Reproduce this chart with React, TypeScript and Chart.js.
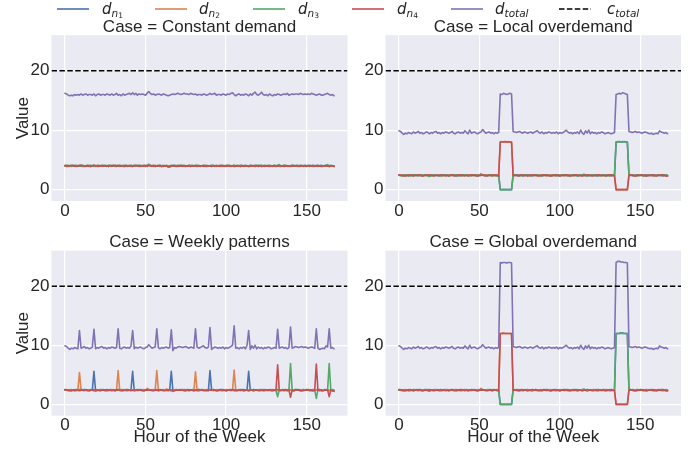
import React, { useEffect, useRef } from "react";
import { Chart, registerables } from "chart.js";
Chart.register(...registerables);

// ---------------- DATA ----------------
const HOURS = [
  0,1,2,3,4,5,6,7,8,9,10,11,12,13,14,15,16,17,18,19,20,21,22,23,
  24,25,26,27,28,29,30,31,32,33,34,35,36,37,38,39,40,41,42,43,44,45,46,47,
  48,49,50,51,52,53,54,55,56,57,58,59,60,61,62,63,64,65,66,67,68,69,70,71,
  72,73,74,75,76,77,78,79,80,81,82,83,84,85,86,87,88,89,90,91,92,93,94,95,
  96,97,98,99,100,101,102,103,104,105,106,107,108,109,110,111,112,113,114,115,116,117,118,119,
  120,121,122,123,124,125,126,127,128,129,130,131,132,133,134,135,136,137,138,139,140,141,142,143,
  144,145,146,147,148,149,150,151,152,153,154,155,156,157,158,159,160,161,162,163,164,165,166,167,
];
const X_TICKS = [0, 50, 100, 150];
const Y_TICKS = [0, 10, 20];
const X_RANGE = [-8.35, 175.35];
const Y_RANGE = [-1.92, 26.0];
const C_TOTAL = 20;

const CASES = ["Case = Constant demand", "Case = Local overdemand", "Case = Weekly patterns", "Case = Global overdemand"];
const X_LABEL = "Hour of the Week";
const Y_LABEL = "Value";

// Constant demand
const CONST_N1 = [
  4.1,4.0,3.9,4.0,4.0,4.1,3.9,4.0,4.0,4.1,4.0,3.9,4.0,4.0,4.1,4.0,3.9,4.0,4.1,4.0,4.0,3.9,4.0,4.1,
  4.0,4.0,3.9,4.1,4.0,4.0,4.1,3.9,4.0,4.0,4.1,4.0,3.9,4.0,4.1,4.0,4.0,3.9,4.0,4.1,4.0,4.0,4.1,3.9,
  4.0,4.1,4.0,3.9,4.2,4.0,4.0,4.1,3.9,4.0,4.0,4.1,4.0,3.9,4.0,4.0,3.9,3.8,4.0,4.0,4.1,4.0,3.9,4.0,
  4.1,4.0,4.0,3.9,4.0,4.1,4.0,4.0,3.9,4.1,4.0,4.0,3.9,4.0,4.1,4.0,3.9,4.0,4.0,4.1,4.0,3.9,4.0,4.0,
  4.0,4.1,3.9,4.0,4.0,4.1,4.0,3.9,4.0,4.1,3.9,4.0,4.0,4.1,4.0,3.9,4.0,4.0,3.9,4.1,4.0,4.0,4.1,4.0,
  3.9,4.0,4.1,4.0,3.9,4.0,4.0,4.1,4.0,3.9,4.0,4.0,4.1,4.0,3.9,4.0,4.1,4.0,4.0,3.9,4.0,4.1,4.0,4.0,
  4.1,4.0,3.9,4.0,4.0,4.1,4.0,4.0,3.9,4.0,4.1,4.0,4.0,3.9,4.0,4.1,4.0,4.0,4.1,4.0,3.9,4.0,4.0,3.9,
];
const CONST_N2 = [
  4.0,4.1,4.0,3.9,4.0,4.0,4.1,4.0,3.9,4.0,4.1,4.0,4.0,3.9,4.0,4.1,4.0,4.0,3.9,4.0,4.1,4.0,4.0,3.9,
  4.1,4.0,4.0,3.9,4.0,4.1,4.0,4.0,3.9,4.1,4.0,4.0,4.1,3.9,4.0,4.0,4.1,4.0,3.9,4.0,4.0,4.1,4.0,4.0,
  3.9,4.0,4.1,4.0,4.3,4.0,3.9,4.0,4.1,4.0,4.0,3.9,4.0,4.1,4.0,4.0,3.9,4.0,4.1,4.0,4.0,3.9,4.0,4.1,
  4.0,4.0,4.1,4.0,3.9,4.0,4.1,4.0,4.0,3.9,4.0,4.1,4.0,4.0,3.9,4.0,4.1,4.0,4.0,3.9,4.0,4.0,4.1,4.0,
  4.1,3.9,4.0,4.0,4.1,4.0,3.9,4.0,4.0,4.1,4.0,4.0,3.9,4.0,4.1,4.0,4.0,3.9,4.0,4.0,4.1,4.0,3.9,4.0,
  4.0,4.1,4.0,3.9,4.0,4.0,4.1,4.0,3.9,4.0,4.1,4.0,4.0,3.9,4.0,4.0,4.1,4.0,3.9,4.0,4.0,4.1,4.0,4.0,
  3.9,4.0,4.0,4.1,4.0,3.9,4.0,4.1,4.0,4.0,3.9,4.0,4.1,4.0,4.0,3.9,4.0,4.0,4.1,4.0,4.0,3.9,4.0,4.0,
];
const CONST_N3 = [
  4.0,4.0,4.1,4.0,3.9,4.0,4.0,4.1,4.0,4.0,3.9,4.1,4.0,4.0,4.0,3.9,4.1,4.0,4.0,3.9,4.0,4.1,4.0,4.0,
  3.9,4.1,4.0,4.0,4.1,3.9,4.0,4.0,4.1,4.0,3.9,4.0,4.0,4.1,4.0,3.9,4.0,4.1,4.0,4.0,3.9,4.0,4.0,4.1,
  4.0,3.9,4.0,4.1,4.0,4.1,4.0,3.9,4.0,4.0,4.1,4.0,3.9,4.0,4.0,4.1,4.0,4.0,3.9,4.1,4.0,4.0,4.1,3.9,
  4.0,4.1,3.9,4.0,4.0,4.0,3.9,4.1,4.0,4.0,4.1,3.9,4.0,4.0,4.0,4.1,3.9,4.0,4.0,4.0,4.1,4.0,3.9,4.0,
  4.0,4.0,4.1,3.9,4.0,4.0,4.1,4.0,4.0,3.9,4.0,4.1,4.0,3.9,4.0,4.0,4.1,4.0,4.0,3.9,4.0,4.0,4.0,4.1,
  4.1,4.0,3.9,4.0,4.1,4.0,3.9,4.0,4.0,4.0,4.1,3.9,4.0,4.2,4.0,4.0,3.9,4.1,4.0,4.0,4.0,3.9,4.1,4.0,
  4.0,4.0,4.1,4.0,3.9,4.0,4.0,4.0,4.1,4.0,3.9,4.0,4.0,4.1,4.0,4.0,3.9,4.0,4.0,4.2,4.0,4.1,4.0,4.0,
];
const CONST_N4 = [
  4.0,3.9,4.0,4.0,4.1,4.0,4.0,3.9,4.0,4.0,4.1,4.0,3.9,4.0,4.0,4.0,3.9,4.0,4.1,4.0,3.9,4.0,4.0,4.0,
  4.0,4.0,4.0,3.9,4.0,4.0,4.0,4.1,3.9,4.0,4.0,4.0,4.0,3.9,4.0,4.0,4.0,4.0,3.9,4.0,4.1,4.0,3.9,4.0,
  4.0,4.0,3.9,4.0,4.1,4.0,4.0,4.0,3.9,4.0,4.0,4.0,3.9,4.0,4.0,4.0,3.8,3.9,4.0,4.0,4.0,3.9,4.0,4.0,
  4.0,3.9,4.0,4.0,4.0,4.0,3.9,4.0,4.0,4.0,3.9,4.0,4.0,4.0,4.0,3.9,4.0,4.0,4.0,3.9,4.0,4.0,4.0,4.0,
  3.9,4.0,4.0,4.0,3.9,4.0,4.0,4.0,4.0,3.9,4.0,4.0,4.0,3.9,4.0,4.0,4.0,4.0,3.9,4.0,4.0,4.0,3.9,4.0,
  4.0,4.0,3.9,4.0,4.0,4.0,4.0,3.9,4.0,4.0,4.0,3.9,4.0,4.0,4.0,4.0,3.9,4.0,4.0,4.0,3.9,4.0,4.0,4.0,
  4.0,3.9,4.0,4.0,4.0,4.0,3.9,4.0,4.0,4.0,4.0,3.9,4.0,4.0,4.0,3.9,4.0,4.0,4.0,4.0,3.9,4.0,4.0,3.9,
];
const CONST_TOTAL = [
  16.2,16.1,15.9,15.8,15.9,15.8,16.0,15.9,16.0,15.9,16.1,15.9,16.0,16.1,15.9,16.0,16.0,15.9,16.1,15.8,16.0,16.1,15.9,16.0,
  16.0,15.9,16.1,16.0,15.9,16.1,15.9,16.0,16.2,15.9,16.0,15.8,16.1,15.9,16.0,16.1,16.2,16.0,16.3,16.0,16.2,15.9,16.1,16.0,
  16.1,16.0,15.9,16.2,16.5,16.2,16.0,16.1,15.9,16.0,16.1,16.0,15.9,16.1,16.0,15.9,15.8,15.9,16.0,16.1,16.0,16.1,16.2,16.1,
  16.0,16.1,16.2,16.1,16.1,16.0,16.2,16.1,16.0,16.1,15.9,16.0,16.0,15.9,16.1,16.0,15.9,16.0,16.2,16.0,16.1,16.2,15.9,16.0,
  16.0,15.9,16.1,16.0,15.9,16.1,16.0,16.2,16.3,16.0,15.8,16.0,16.1,15.9,16.0,15.9,16.1,16.0,15.8,16.1,15.9,16.2,16.4,16.0,
  15.9,16.1,16.4,16.0,15.9,16.0,15.8,16.1,15.9,15.8,16.0,15.9,16.1,16.0,15.9,16.0,16.1,16.0,16.2,15.9,16.0,16.1,16.0,16.1,
  16.1,16.0,16.2,16.1,16.0,16.1,16.0,16.1,16.0,16.2,16.1,16.0,15.9,16.0,16.1,15.9,15.9,16.0,16.1,16.2,16.0,15.9,16.0,15.8,
];

// Local overdemand
const LOCAL_N1 = [
  2.5,2.4,2.4,2.3,2.4,2.4,2.3,2.4,2.4,2.5,2.4,2.4,2.5,2.4,2.3,2.4,2.4,2.5,2.4,2.3,2.4,2.4,2.5,2.4,
  2.4,2.3,2.4,2.4,2.5,2.4,2.4,2.3,2.4,2.5,2.4,2.4,2.3,2.4,2.4,2.5,2.4,2.4,2.5,2.3,2.4,2.4,2.4,2.5,
  2.4,2.3,2.4,2.4,2.5,2.4,2.4,2.4,2.5,2.4,2.3,2.4,2.4,2.4,2.4,0.0,0.0,0.0,0.0,0.0,0.0,0.0,0.0,2.5,
  2.4,2.4,2.5,2.4,2.4,2.3,2.4,2.4,2.5,2.4,2.4,2.3,2.4,2.5,2.4,2.4,2.4,2.3,2.4,2.4,2.5,2.4,2.4,2.3,
  2.4,2.4,2.5,2.4,2.3,2.4,2.4,2.5,2.4,2.4,2.3,2.4,2.4,2.5,2.4,2.3,2.4,2.4,2.5,2.4,2.4,2.3,2.4,2.4,
  2.4,2.5,2.4,2.3,2.4,2.4,2.4,2.5,2.4,2.3,2.4,2.4,2.5,2.4,2.4,8.0,8.0,8.1,8.0,8.0,8.1,8.0,8.0,2.5,
  2.4,2.4,2.3,2.4,2.5,2.4,2.4,2.4,2.3,2.4,2.5,2.4,2.4,2.4,2.3,2.4,2.4,2.5,2.4,2.4,2.3,2.4,2.4,2.3,
];
const LOCAL_N2 = [
  2.4,2.5,2.4,2.4,2.3,2.4,2.5,2.4,2.4,2.3,2.4,2.5,2.4,2.4,2.4,2.3,2.4,2.4,2.5,2.4,2.4,2.3,2.4,2.4,
  2.5,2.4,2.4,2.3,2.4,2.4,2.5,2.4,2.4,2.4,2.3,2.4,2.5,2.4,2.4,2.3,2.4,2.5,2.4,2.4,2.4,2.3,2.4,2.4,
  2.4,2.5,2.4,2.7,2.4,2.4,2.4,2.5,2.4,2.4,2.3,2.4,2.4,2.5,2.4,8.0,8.1,8.0,8.0,8.0,8.1,8.0,8.0,2.4,
  2.5,2.4,2.4,2.3,2.4,2.5,2.4,2.4,2.3,2.4,2.4,2.5,2.4,2.4,2.3,2.4,2.5,2.4,2.4,2.4,2.3,2.4,2.5,2.4,
  2.4,2.3,2.4,2.4,2.5,2.4,2.4,2.3,2.4,2.5,2.4,2.4,2.4,2.3,2.4,2.5,2.4,2.4,2.3,2.4,2.4,2.5,2.4,2.4,
  2.3,2.4,2.4,2.5,2.4,2.4,2.3,2.4,2.4,2.5,2.4,2.4,2.3,2.4,2.4,0.0,0.0,0.0,0.0,0.0,0.0,0.0,0.0,2.4,
  2.5,2.4,2.4,2.4,2.3,2.4,2.5,2.4,2.4,2.3,2.4,2.4,2.5,2.4,2.4,2.3,2.4,2.4,2.5,2.4,2.4,2.4,2.3,2.4,
];
const LOCAL_N3 = [
  2.4,2.4,2.3,2.4,2.5,2.4,2.4,2.3,2.4,2.4,2.5,2.4,2.3,2.4,2.4,2.4,2.5,2.4,2.3,2.2,2.4,2.4,2.4,2.5,
  2.4,2.4,2.3,2.4,2.4,2.5,2.4,2.3,2.4,2.4,2.4,2.5,2.4,2.4,2.3,2.4,2.4,2.5,2.4,2.3,2.4,2.4,2.5,2.4,
  2.3,2.4,2.4,2.5,2.4,2.4,2.3,2.4,2.4,2.5,2.4,2.4,2.4,2.3,2.4,0.0,0.0,0.0,0.0,0.0,0.0,0.0,0.0,2.4,
  2.4,2.5,2.4,2.3,2.4,2.4,2.4,2.5,2.4,2.4,2.3,2.4,2.4,2.5,2.4,2.4,2.3,2.4,2.4,2.5,2.4,2.4,2.3,2.4,
  2.5,2.4,2.3,2.4,2.4,2.4,2.5,2.4,2.4,2.3,2.4,2.4,2.5,2.4,2.4,2.3,2.4,2.4,2.4,2.6,2.4,2.3,2.4,2.4,
  2.4,2.4,2.5,2.4,2.3,2.4,2.4,2.4,2.5,2.4,2.4,2.3,2.4,2.4,2.4,8.0,8.1,8.0,8.0,8.1,8.0,8.0,8.0,2.4,
  2.4,2.5,2.4,2.3,2.4,2.4,2.5,2.4,2.4,2.4,2.3,2.4,2.4,2.5,2.4,2.4,2.3,2.4,2.4,2.5,2.4,2.4,2.5,2.4,
];
const LOCAL_N4 = [
  2.5,2.4,2.4,2.4,2.3,2.4,2.4,2.5,2.4,2.3,2.4,2.4,2.4,2.5,2.4,2.3,2.4,2.4,2.4,2.5,2.4,2.4,2.3,2.4,
  2.4,2.4,2.5,2.4,2.4,2.3,2.4,2.4,2.4,2.5,2.4,2.3,2.4,2.4,2.5,2.4,2.4,2.3,2.4,2.4,2.4,2.5,2.4,2.4,
  2.4,2.3,2.4,2.4,2.5,2.4,2.4,2.3,2.4,2.4,2.4,2.5,2.4,2.4,2.3,8.0,8.0,8.0,8.1,8.0,8.0,8.0,8.0,2.4,
  2.4,2.4,2.3,2.4,2.5,2.4,2.4,2.4,2.3,2.4,2.4,2.5,2.4,2.4,2.4,2.3,2.4,2.4,2.5,2.4,2.4,2.4,2.3,2.4,
  2.4,2.5,2.4,2.4,2.3,2.4,2.4,2.4,2.5,2.4,2.4,2.3,2.4,2.4,2.5,2.4,2.4,2.4,2.3,2.4,2.4,2.5,2.4,2.4,
  2.4,2.3,2.4,2.4,2.5,2.4,2.4,2.4,2.3,2.4,2.4,2.5,2.4,2.4,2.3,0.0,0.0,0.0,0.0,0.0,0.0,0.0,0.0,2.4,
  2.5,2.4,2.4,2.3,2.4,2.4,2.4,2.5,2.4,2.4,2.3,2.4,2.4,2.4,2.5,2.4,2.3,2.4,2.4,2.4,2.5,2.4,2.3,2.3,
];
const LOCAL_TOTAL = [
  9.9,9.8,9.5,9.3,9.5,9.4,9.6,9.5,9.4,9.7,9.5,9.6,9.8,9.5,9.6,9.4,9.5,9.7,9.6,9.4,9.6,9.5,9.7,9.8,
  9.5,9.6,9.4,9.6,9.5,9.7,9.6,9.5,9.6,9.8,9.5,9.4,9.6,9.7,9.5,9.6,9.5,9.9,9.6,9.4,10.0,9.5,9.6,9.7,
  9.5,9.4,9.6,9.7,10.1,9.8,9.5,9.6,9.7,9.5,9.6,9.4,9.6,9.5,9.6,16.1,16.0,16.2,16.1,16.0,16.1,16.2,16.1,9.8,
  9.7,9.6,9.7,9.8,9.6,9.5,9.7,9.6,9.5,9.6,9.7,9.5,9.6,9.8,9.9,9.6,9.5,9.7,9.4,9.6,9.5,9.7,9.6,9.5,
  9.6,9.5,9.7,9.4,9.6,9.5,9.6,9.8,10.0,9.7,9.5,9.6,9.4,9.6,9.5,9.7,9.4,10.0,9.5,9.3,9.9,9.5,10.0,9.4,
  9.7,9.5,9.6,9.4,9.6,9.5,9.7,9.6,9.4,9.5,9.6,9.5,9.4,9.5,9.6,16.0,16.1,16.2,16.1,16.3,16.2,16.1,16.0,9.8,
  9.7,9.6,9.7,9.8,9.6,9.7,9.6,9.5,9.6,9.7,9.6,9.5,9.4,9.5,9.3,9.4,9.5,9.4,9.9,9.7,9.6,9.5,9.6,9.4,
];

// Weekly patterns
const WEEKLY_N1 = [
  2.5,2.4,2.4,2.3,2.4,2.4,2.3,2.4,2.4,2.5,2.4,2.4,2.5,2.4,2.3,2.4,2.4,2.5,5.6,2.3,2.4,2.4,2.5,2.4,
  2.4,2.3,2.4,2.4,2.5,2.4,2.4,2.3,2.4,2.5,2.4,2.4,2.3,2.4,2.4,2.5,2.4,2.4,5.6,2.3,2.4,2.4,2.4,2.5,
  2.4,2.3,2.4,2.4,2.5,2.4,2.4,2.4,2.5,2.4,2.3,2.4,2.4,2.4,2.4,2.4,2.3,2.4,5.6,2.2,2.4,2.4,2.4,2.5,
  2.4,2.4,2.5,2.4,2.4,2.3,2.4,2.4,2.5,2.4,2.4,2.3,2.4,2.5,2.4,2.4,2.4,2.3,5.7,2.4,2.5,2.4,2.4,2.3,
  2.4,2.4,2.5,2.4,2.3,2.4,2.4,2.5,2.4,2.4,2.3,2.4,2.4,2.5,2.4,2.3,2.4,2.4,5.6,2.4,2.4,2.3,2.4,2.4,
  2.4,2.5,2.4,2.3,2.4,2.4,2.4,2.5,2.4,2.3,2.4,2.4,2.5,2.4,2.4,2.4,2.3,2.4,2.4,2.5,2.4,2.4,2.3,2.5,
  2.4,2.4,2.3,2.4,2.5,2.4,2.4,2.4,2.3,2.4,2.5,2.4,2.4,2.4,2.3,2.4,2.4,2.5,2.4,2.4,2.3,2.4,2.4,2.3,
];
const WEEKLY_N2 = [
  2.4,2.5,2.4,2.4,2.3,2.4,2.5,2.4,2.4,5.4,2.4,2.5,2.4,2.4,2.4,2.3,2.4,2.4,2.5,2.4,2.4,2.3,2.4,2.4,
  2.5,2.4,2.4,2.3,2.4,2.4,2.5,2.4,2.4,5.7,2.3,2.4,2.5,2.4,2.4,2.3,2.4,2.5,2.4,2.4,2.4,2.3,2.4,2.4,
  2.4,2.5,2.4,2.7,2.4,2.4,2.4,2.5,2.4,5.7,2.3,2.4,2.4,2.5,2.4,2.6,2.4,2.4,2.3,2.4,2.4,2.5,2.4,2.4,
  2.5,2.4,2.4,2.3,2.4,2.5,2.4,2.4,2.3,5.5,2.4,2.5,2.4,2.4,2.3,2.4,2.5,2.4,2.4,2.4,2.3,2.4,2.5,2.4,
  2.4,2.3,2.4,2.4,2.5,2.4,2.4,2.3,2.4,5.8,2.4,2.4,2.4,2.3,2.4,2.5,2.4,2.4,2.3,2.4,2.4,2.5,2.4,2.4,
  2.3,2.4,2.4,2.5,2.4,2.4,2.3,2.4,2.4,2.5,2.4,2.4,2.3,2.4,2.4,2.4,2.5,2.4,2.3,2.4,2.4,2.5,2.4,2.4,
  2.5,2.4,2.4,2.4,2.3,2.4,2.5,2.4,2.4,2.3,2.4,2.4,2.5,2.4,2.4,2.3,2.4,2.4,2.5,2.4,2.4,2.4,2.3,2.4,
];
const WEEKLY_N3 = [
  2.4,2.4,2.3,2.4,2.5,2.4,2.4,2.3,2.4,2.4,2.5,2.4,2.3,2.4,2.4,2.4,2.5,2.4,2.3,2.2,2.4,2.4,2.4,2.5,
  2.4,2.4,2.3,2.4,2.4,2.5,2.4,2.3,2.4,2.4,2.4,2.5,2.4,2.4,2.3,2.4,2.4,2.5,2.4,2.3,2.4,2.4,2.5,2.4,
  2.3,2.4,2.4,2.5,2.4,2.4,2.3,2.4,2.4,2.5,2.4,2.4,2.4,2.3,2.4,2.4,2.5,2.4,2.3,2.4,2.4,2.5,2.4,2.4,
  2.4,2.5,2.4,2.3,2.4,2.4,2.4,2.5,2.4,2.4,2.3,2.4,2.4,2.5,2.4,2.4,2.3,2.4,2.4,2.5,2.4,2.4,2.3,2.4,
  2.5,2.4,2.3,2.4,2.4,2.4,2.5,2.4,2.4,2.3,2.4,2.4,2.5,2.4,2.4,2.3,2.4,2.4,2.4,2.6,2.4,2.3,2.4,2.4,
  2.4,2.4,2.5,2.4,2.3,2.4,2.4,2.4,2.5,2.4,2.4,2.3,1.3,2.4,2.4,2.5,2.4,2.4,2.3,2.4,6.9,2.4,2.4,2.5,
  2.4,2.5,2.4,2.3,2.4,2.4,2.5,2.4,2.4,2.4,2.3,2.4,1.0,2.5,2.4,2.4,2.3,2.4,2.4,2.5,6.9,2.4,2.5,2.4,
];
const WEEKLY_N4 = [
  2.5,2.4,2.4,2.4,2.3,2.4,2.4,2.5,2.4,2.3,2.4,2.4,2.4,2.5,2.4,2.3,2.4,2.4,2.4,2.5,2.4,2.4,2.3,2.4,
  2.4,2.4,2.5,2.4,2.4,2.3,2.4,2.4,2.4,2.5,2.4,2.3,2.4,2.4,2.5,2.4,2.4,2.3,2.4,2.4,2.4,2.5,2.4,2.4,
  2.4,2.3,2.4,2.4,2.5,2.4,2.4,2.3,2.4,2.4,2.4,2.5,2.4,2.4,2.3,2.4,2.4,2.5,2.4,2.4,2.3,2.4,2.4,2.4,
  2.4,2.4,2.3,2.4,2.5,2.4,2.4,2.4,2.3,2.4,2.4,2.5,2.4,2.4,2.4,2.3,2.4,2.4,2.5,2.4,2.4,2.4,2.3,2.4,
  2.4,2.5,2.4,2.4,2.3,2.4,2.4,2.4,2.5,2.4,2.4,2.3,2.4,2.4,2.5,2.4,2.4,2.4,2.3,2.4,2.4,2.5,2.4,2.4,
  2.4,2.3,2.4,2.4,2.5,2.4,2.4,2.4,2.3,2.4,2.4,2.5,6.7,2.4,2.3,2.4,2.4,2.5,2.4,2.4,1.2,2.4,2.3,2.4,
  2.5,2.4,2.4,2.3,2.4,2.4,2.4,2.5,2.4,2.4,2.3,2.4,6.8,2.4,2.5,2.4,2.3,2.4,2.4,2.4,1.3,2.4,2.3,2.2,
];
const WEEKLY_TOTAL = [
  9.9,9.8,9.5,9.3,9.5,9.4,9.6,9.5,9.4,12.5,9.5,9.6,9.8,9.5,9.6,9.4,9.5,9.7,12.7,9.4,9.6,9.5,9.7,9.8,
  9.5,9.6,9.4,9.6,9.5,9.7,9.6,9.5,9.6,12.8,9.5,9.4,9.6,9.7,9.5,9.6,9.5,9.9,12.5,9.4,9.7,9.5,9.6,9.7,
  9.5,9.4,9.6,9.7,10.1,9.8,9.5,9.6,9.7,12.8,9.6,9.4,9.6,9.5,9.6,9.7,9.5,9.6,12.6,9.1,9.6,9.5,9.7,9.8,
  9.7,9.6,9.7,9.8,9.6,9.5,9.7,9.6,9.5,12.8,9.7,9.5,9.6,9.8,9.9,9.6,9.5,9.7,13.0,9.3,9.5,9.7,9.6,9.5,
  9.6,9.5,9.7,9.4,9.6,9.5,9.6,9.8,10.0,13.3,9.5,9.6,9.4,9.6,9.5,9.7,9.4,10.0,12.5,9.3,9.9,9.5,10.0,9.4,
  9.7,9.5,9.6,9.4,9.6,9.5,9.7,9.6,9.4,9.5,9.6,9.5,12.7,9.5,9.6,9.7,9.5,9.6,9.4,9.6,13.1,9.5,9.6,9.8,
  9.7,9.6,9.7,9.8,9.6,9.7,9.6,9.5,9.6,9.7,9.6,9.5,12.8,9.5,9.3,9.4,9.5,9.4,9.9,9.7,12.8,9.5,9.6,9.4,
];

// Global overdemand
const GLOBAL_N1 = [
  2.5,2.4,2.4,2.3,2.4,2.4,2.3,2.4,2.4,2.5,2.4,2.4,2.5,2.4,2.3,2.4,2.4,2.5,2.4,2.3,2.4,2.4,2.5,2.4,
  2.4,2.3,2.4,2.4,2.5,2.4,2.4,2.3,2.4,2.5,2.4,2.4,2.3,2.4,2.4,2.5,2.4,2.4,2.5,2.3,2.4,2.4,2.4,2.5,
  2.4,2.3,2.4,2.4,2.5,2.4,2.4,2.4,2.5,2.4,2.3,2.4,2.4,2.4,2.4,0.0,0.0,0.0,0.0,0.0,0.0,0.0,0.0,2.5,
  2.4,2.4,2.5,2.4,2.4,2.3,2.4,2.4,2.5,2.4,2.4,2.3,2.4,2.5,2.4,2.4,2.4,2.3,2.4,2.4,2.5,2.4,2.4,2.3,
  2.4,2.4,2.5,2.4,2.3,2.4,2.4,2.5,2.4,2.4,2.3,2.4,2.4,2.5,2.4,2.3,2.4,2.4,2.5,2.4,2.4,2.3,2.4,2.4,
  2.4,2.5,2.4,2.3,2.4,2.4,2.4,2.5,2.4,2.3,2.4,2.4,2.5,2.4,2.4,12.0,12.0,12.0,12.1,12.0,12.0,12.0,12.0,2.5,
  2.4,2.4,2.3,2.4,2.5,2.4,2.4,2.4,2.3,2.4,2.5,2.4,2.4,2.4,2.3,2.4,2.4,2.5,2.4,2.4,2.3,2.4,2.4,2.3,
];
const GLOBAL_N2 = [
  2.4,2.5,2.4,2.4,2.3,2.4,2.5,2.4,2.4,2.3,2.4,2.5,2.4,2.4,2.4,2.3,2.4,2.4,2.5,2.4,2.4,2.3,2.4,2.4,
  2.5,2.4,2.4,2.3,2.4,2.4,2.5,2.4,2.4,2.4,2.3,2.4,2.5,2.4,2.4,2.3,2.4,2.5,2.4,2.4,2.4,2.3,2.4,2.4,
  2.4,2.5,2.4,2.7,2.4,2.4,2.4,2.5,2.4,2.4,2.3,2.4,2.4,2.5,2.4,12.0,12.0,12.1,12.0,12.0,12.0,12.0,12.0,2.4,
  2.5,2.4,2.4,2.3,2.4,2.5,2.4,2.4,2.3,2.4,2.4,2.5,2.4,2.4,2.3,2.4,2.5,2.4,2.4,2.4,2.3,2.4,2.5,2.4,
  2.4,2.3,2.4,2.4,2.5,2.4,2.4,2.3,2.4,2.5,2.4,2.4,2.4,2.3,2.4,2.5,2.4,2.4,2.3,2.4,2.4,2.5,2.4,2.4,
  2.3,2.4,2.4,2.5,2.4,2.4,2.3,2.4,2.4,2.5,2.4,2.4,2.3,2.4,2.4,0.0,0.0,0.0,0.0,0.0,0.0,0.0,0.0,2.4,
  2.5,2.4,2.4,2.4,2.3,2.4,2.5,2.4,2.4,2.3,2.4,2.4,2.5,2.4,2.4,2.3,2.4,2.4,2.5,2.4,2.4,2.4,2.3,2.4,
];
const GLOBAL_N3 = [
  2.4,2.4,2.3,2.4,2.5,2.4,2.4,2.3,2.4,2.4,2.5,2.4,2.3,2.4,2.4,2.4,2.5,2.4,2.3,2.2,2.4,2.4,2.4,2.5,
  2.4,2.4,2.3,2.4,2.4,2.5,2.4,2.3,2.4,2.4,2.4,2.5,2.4,2.4,2.3,2.4,2.4,2.5,2.4,2.3,2.4,2.4,2.5,2.4,
  2.3,2.4,2.4,2.5,2.4,2.4,2.3,2.4,2.4,2.5,2.4,2.4,2.4,2.3,2.4,0.0,0.0,0.0,0.0,0.0,0.0,0.0,0.0,2.4,
  2.4,2.5,2.4,2.3,2.4,2.4,2.4,2.5,2.4,2.4,2.3,2.4,2.4,2.5,2.4,2.4,2.3,2.4,2.4,2.5,2.4,2.4,2.3,2.4,
  2.5,2.4,2.3,2.4,2.4,2.4,2.5,2.4,2.4,2.3,2.4,2.4,2.5,2.4,2.4,2.3,2.4,2.4,2.4,2.6,2.4,2.3,2.4,2.4,
  2.4,2.4,2.5,2.4,2.3,2.4,2.4,2.4,2.5,2.4,2.4,2.3,2.4,2.4,2.4,12.0,12.0,12.0,12.0,12.1,12.0,12.0,12.0,2.4,
  2.4,2.5,2.4,2.3,2.4,2.4,2.5,2.4,2.4,2.4,2.3,2.4,2.4,2.5,2.4,2.4,2.3,2.4,2.4,2.5,2.4,2.4,2.5,2.4,
];
const GLOBAL_N4 = [
  2.5,2.4,2.4,2.4,2.3,2.4,2.4,2.5,2.4,2.3,2.4,2.4,2.4,2.5,2.4,2.3,2.4,2.4,2.4,2.5,2.4,2.4,2.3,2.4,
  2.4,2.4,2.5,2.4,2.4,2.3,2.4,2.4,2.4,2.5,2.4,2.3,2.4,2.4,2.5,2.4,2.4,2.3,2.4,2.4,2.4,2.5,2.4,2.4,
  2.4,2.3,2.4,2.4,2.5,2.4,2.4,2.3,2.4,2.4,2.4,2.5,2.4,2.4,2.3,12.0,12.0,12.0,12.0,12.0,12.0,12.0,12.0,2.4,
  2.4,2.4,2.3,2.4,2.5,2.4,2.4,2.4,2.3,2.4,2.4,2.5,2.4,2.4,2.4,2.3,2.4,2.4,2.5,2.4,2.4,2.4,2.3,2.4,
  2.4,2.5,2.4,2.4,2.3,2.4,2.4,2.4,2.5,2.4,2.4,2.3,2.4,2.4,2.5,2.4,2.4,2.4,2.3,2.4,2.4,2.5,2.4,2.4,
  2.4,2.3,2.4,2.4,2.5,2.4,2.4,2.4,2.3,2.4,2.4,2.5,2.4,2.4,2.3,0.0,0.0,0.0,0.0,0.0,0.0,0.0,0.0,2.4,
  2.5,2.4,2.4,2.3,2.4,2.4,2.4,2.5,2.4,2.4,2.3,2.4,2.4,2.4,2.5,2.4,2.3,2.4,2.4,2.4,2.5,2.4,2.3,2.3,
];
const GLOBAL_TOTAL = [
  9.9,9.8,9.5,9.3,9.5,9.4,9.6,9.5,9.4,9.7,9.5,9.6,9.8,9.5,9.6,9.4,9.5,9.7,9.6,9.4,9.6,9.5,9.7,9.8,
  9.5,9.6,9.4,9.6,9.5,9.7,9.6,9.5,9.6,9.8,9.5,9.4,9.6,9.7,9.5,9.6,9.5,9.9,9.6,9.4,10.0,9.5,9.6,9.7,
  9.5,9.4,9.6,9.7,10.1,9.8,9.5,9.6,9.7,9.5,9.6,9.4,9.6,9.5,9.6,24.0,23.9,24.0,24.0,23.9,24.0,24.0,23.9,9.8,
  9.7,9.6,9.7,9.8,9.6,9.5,9.7,9.6,9.5,9.6,9.7,9.5,9.6,9.8,9.9,9.6,9.5,9.7,9.4,9.6,9.5,9.7,9.6,9.5,
  9.6,9.5,9.7,9.4,9.6,9.5,9.6,9.8,10.0,9.7,9.5,9.6,9.4,9.6,9.5,9.7,9.4,10.0,9.5,9.3,9.9,9.5,10.0,9.4,
  9.7,9.5,9.6,9.4,9.6,9.5,9.7,9.6,9.4,9.5,9.6,9.5,9.4,9.5,9.6,24.0,24.2,24.2,24.1,24.1,24.0,24.0,23.9,9.8,
  9.7,9.6,9.7,9.8,9.6,9.7,9.6,9.5,9.6,9.7,9.6,9.5,9.4,9.5,9.3,9.4,9.5,9.4,9.9,9.7,9.6,9.5,9.6,9.4,
];

// ---------------- STYLE / LAYOUT ----------------
const COLORS = ["#4C72B0", "#DD8452", "#55A868", "#C44E52", "#8172B3"];
const TEXT_COLOR = "#262626";
const BG = "#EAEAF2";
const FONT = '"Liberation Sans", Arial, sans-serif';
const MATH_FONT = '"DejaVu Sans", sans-serif';

type PanelCfg = {
  title: string;
  series: number[][];
  left: number; top: number; w: number; h: number;
  yWidth: number; padRight: number; xHeight: number;
  titleTop: number; titleBottom: number;
  showX: boolean; showY: boolean;
};

const PANELS: PanelCfg[] = [
  { title: CASES[0], series: [CONST_N1, CONST_N2, CONST_N3, CONST_N4, CONST_TOTAL],
    left: 0, top: 0, w: 349, h: 228, yWidth: 51.5, padRight: 1.5, xHeight: 27,
    titleTop: 19.85, titleBottom: 0, showX: false, showY: true },
  { title: CASES[1], series: [LOCAL_N1, LOCAL_N2, LOCAL_N3, LOCAL_N4, LOCAL_TOTAL],
    left: 349, top: 0, w: 349, h: 228, yWidth: 36.5, padRight: 17, xHeight: 27,
    titleTop: 19.85, titleBottom: 0, showX: false, showY: false },
  { title: CASES[2], series: [WEEKLY_N1, WEEKLY_N2, WEEKLY_N3, WEEKLY_N4, WEEKLY_TOTAL],
    left: 0, top: 228, w: 349, h: 224, yWidth: 51.5, padRight: 1.5, xHeight: 36.3,
    titleTop: 7.15, titleBottom: 0.25, showX: true, showY: true },
  { title: CASES[3], series: [GLOBAL_N1, GLOBAL_N2, GLOBAL_N3, GLOBAL_N4, GLOBAL_TOTAL],
    left: 349, top: 228, w: 349, h: 224, yWidth: 36.5, padRight: 17, xHeight: 36.3,
    titleTop: 7.15, titleBottom: 0.25, showX: true, showY: false },
];

const bgPlugin = {
  id: "panelBg",
  beforeDraw(chart: any) {
    const { ctx, chartArea: a } = chart;
    ctx.save();
    ctx.fillStyle = BG;
    ctx.fillRect(a.left, a.top, a.right - a.left, a.bottom - a.top);
    ctx.restore();
  },
};

const capacityPlugin = {
  id: "capacity",
  afterDatasetsDraw(chart: any) {
    const { ctx, chartArea: a, scales } = chart;
    const y = scales.y.getPixelForValue(C_TOTAL);
    ctx.save();
    ctx.beginPath();
    ctx.rect(a.left, a.top, a.right - a.left, a.bottom - a.top);
    ctx.clip();
    ctx.strokeStyle = "#000";
    ctx.lineWidth = 1.5;
    ctx.setLineDash([5.5, 2.4]);
    ctx.beginPath();
    ctx.moveTo(a.left, y);
    ctx.lineTo(a.right, y);
    ctx.stroke();
    ctx.restore();
  },
};

function Panel({ p }: { p: PanelCfg }) {
  const ref = useRef<HTMLCanvasElement>(null);
  useEffect(() => {
    if (!ref.current) return;
    const chart = new Chart(ref.current, {
      type: "line",
      data: {
        labels: HOURS,
        datasets: p.series.map((s, i) => ({
          data: s,
          borderColor: COLORS[i],
          backgroundColor: COLORS[i],
          borderWidth: 1.6,
          pointRadius: 0,
          tension: 0,
          fill: false,
          order: 5 - i,
          borderJoinStyle: "round" as const,
          borderCapStyle: "round" as const,
        })),
      },
      options: {
        animation: false,
        responsive: false,
        maintainAspectRatio: false,
        devicePixelRatio: 1,
        events: [],
        layout: { padding: { left: 0, right: p.padRight, top: 0, bottom: 0 } },
        plugins: {
          legend: { display: false },
          tooltip: { enabled: false },
          title: {
            display: true,
            text: p.title,
            fullSize: false,
            color: TEXT_COLOR,
            font: { family: FONT, size: 17, weight: "normal", lineHeight: 0.9 },
            padding: { top: p.titleTop, bottom: p.titleBottom },
          },
        },
        scales: {
          x: {
            type: "linear",
            min: X_RANGE[0],
            max: X_RANGE[1],
            afterBuildTicks: (s: any) => { s.ticks = X_TICKS.map((v) => ({ value: v })); },
            afterFit: (s: any) => { s.height = p.xHeight; },
            grid: { color: "#ffffff", lineWidth: 1.2, drawTicks: false },
            border: { display: false },
            ticks: {
              color: TEXT_COLOR, padding: 1.5, maxRotation: 0, autoSkip: false,
              font: { family: FONT, size: 17, lineHeight: 1 },
            },
            title: {
              display: p.showX, text: X_LABEL, color: TEXT_COLOR,
              font: { family: FONT, size: 17, lineHeight: 1.2 },
              padding: { top: 0, bottom: 4.0 },
            },
          },
          y: {
            type: "linear",
            min: Y_RANGE[0],
            max: Y_RANGE[1],
            afterBuildTicks: (s: any) => { s.ticks = Y_TICKS.map((v) => ({ value: v })); },
            afterFit: (s: any) => { s.width = p.yWidth; },
            grid: { color: "#ffffff", lineWidth: 1.2, drawTicks: false },
            border: { display: false },
            ticks: {
              color: TEXT_COLOR, padding: 2, autoSkip: false,
              font: { family: FONT, size: 17, lineHeight: 1 },
            },
            title: {
              display: p.showY, text: Y_LABEL, color: TEXT_COLOR,
              font: { family: FONT, size: 17, lineHeight: 1.2 },
              padding: { top: 13.3, bottom: 0 },
            },
          },
        },
      },
      plugins: [bgPlugin, capacityPlugin],
    } as any);
    return () => chart.destroy();
  }, [p]);
  return (
    <canvas
      ref={ref}
      width={p.w}
      height={p.h}
      style={{ position: "absolute", left: p.left, top: p.top, width: p.w, height: p.h }}
    />
  );
}

// Legend entries (math-style labels)
const LEGEND_ITEMS = [
  { main: "d", sub: "n", subsub: "1", color: COLORS[0], dashed: false },
  { main: "d", sub: "n", subsub: "2", color: COLORS[1], dashed: false },
  { main: "d", sub: "n", subsub: "3", color: COLORS[2], dashed: false },
  { main: "d", sub: "n", subsub: "4", color: COLORS[3], dashed: false },
  { main: "d", sub: "total", subsub: "", color: COLORS[4], dashed: false },
  { main: "c", sub: "total", subsub: "", color: "#000000", dashed: true },
];
const LEGEND_LINE_X = [57, 155, 253, 352, 451, 559];
const LEGEND_TEXT_X = [102, 199, 298, 397, 495, 607];

function Legend() {
  return (
    <>
      {LEGEND_ITEMS.map((it, i) => (
        <React.Fragment key={i}>
          <svg
            width={34}
            height={18}
            style={{ position: "absolute", left: LEGEND_LINE_X[i], top: 0 }}
          >
            <line
              x1={0} y1={9} x2={32} y2={9}
              stroke={it.color}
              strokeWidth={1.6}
              strokeDasharray={it.dashed ? "5.5,2.4" : undefined}
            />
          </svg>
          <span
            style={{
              position: "absolute", left: LEGEND_TEXT_X[i], top: -1,
              fontFamily: MATH_FONT, fontStyle: "italic", fontSize: 15,
              lineHeight: "20px", color: TEXT_COLOR, whiteSpace: "nowrap",
            }}
          >
            {it.main}
            <span style={{ fontSize: 10.5, position: "relative", top: 2.5 }}>
              {it.sub}
              {it.subsub ? (
                <span style={{ fontSize: 7.5, fontStyle: "normal", position: "relative", top: 1.8 }}>
                  {it.subsub}
                </span>
              ) : null}
            </span>
          </span>
        </React.Fragment>
      ))}
    </>
  );
}

export default function App() {
  return (
    <div style={{ position: "absolute", left: 0, top: 0, width: 698, height: 452, background: "#ffffff", overflow: "hidden" }}>
      {PANELS.map((p, i) => (
        <Panel key={i} p={p} />
      ))}
      <Legend />
    </div>
  );
}
